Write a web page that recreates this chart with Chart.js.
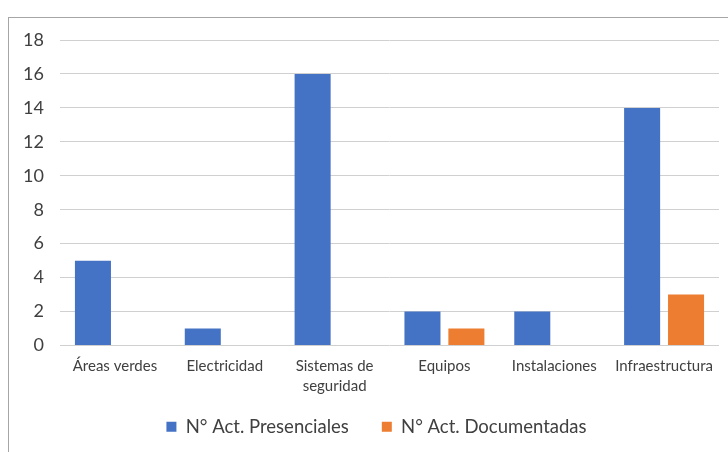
<!DOCTYPE html>
<html>
<head>
<meta charset="utf-8">
<script src="https://cdn.jsdelivr.net/npm/chart.js@4/dist/chart.umd.min.js"></script>
<style>
  html, body { margin: 0; padding: 0; background: #fff; overflow: hidden; }
  #marco { position: absolute; left: 8px; top: 17px; width: 800px; height: 500px; border: 1px solid #a6a6a6; }
  #zona { position: absolute; left: 0; top: 0; width: 728px; height: 446px; }
</style>
</head>
<body>
<div id="marco"></div>
<div id="zona"><canvas id="g_actividades"></canvas></div>
<script>
// datos del gráfico
const categorias = ['Áreas verdes', 'Electricidad', ['Sistemas de', 'seguridad'], 'Equipos', 'Instalaciones', 'Infraestructura'];
const presenciales = [5, 1, 16, 2, 2, 14];
const documentadas = [0, 0, 0, 1, 0, 3];
const nombreSeries = ['N° Act. Presenciales', 'N° Act. Documentadas'];

// ajuste: las etiquetas del eje x pueden salir por debajo del eje, y la leyenda se desplaza un poco
const ajuste = {
    id: 'ajuste',
    afterLayout(chart) {
        chart.scales.x.bottom = chart.height;
        chart.legend.left += 17;
        chart.legend.right += 17;
    }
};

function grafico() {
    let context = document.getElementById('g_actividades').getContext('2d');
    let conData = {
        labels: categorias,
        datasets: [{
            label: nombreSeries[0],
            data: presenciales,
            backgroundColor: '#4472C4',
            barPercentage: 0.82,
            categoryPercentage: 0.8
        }, {
            label: nombreSeries[1],
            data: documentadas,
            backgroundColor: '#ED7D31',
            barPercentage: 0.82,
            categoryPercentage: 0.8
        }]
    };
    let options = {
        responsive: true,
        maintainAspectRatio: false,
        animation: false,
        layout: { padding: { top: 40, right: 9, left: 0, bottom: 0 } },
        plugins: {
            legend: {
                position: 'bottom',
                labels: {
                    boxWidth: 10,
                    boxHeight: 10,
                    padding: 33,
                    color: '#404040',
                    font: { family: 'Lato', size: 18.5 }
                }
            },
            tooltip: { enabled: false }
        },
        scales: {
            x: {
                grid: { display: false, drawTicks: false },
                border: { display: false },
                ticks: { color: '#404040', padding: 11, font: { family: 'Lato', size: 15, lineHeight: 1.33 } },
                afterFit: (s) => { s.height = 39; }
            },
            y: {
                min: 0,
                max: 18,
                grid: { color: '#d0d0d0', drawTicks: false },
                border: { display: false },
                ticks: { stepSize: 2, color: '#404040', padding: 16, font: { family: 'Lato', size: 18 } },
                afterFit: (s) => { s.width = 60; }
            }
        }
    };
    new Chart(context, { type: 'bar', data: conData, options: options, plugins: [ajuste] });
}

window.addEventListener('load', () => {
    grafico();
});
</script>
</body>
</html>
